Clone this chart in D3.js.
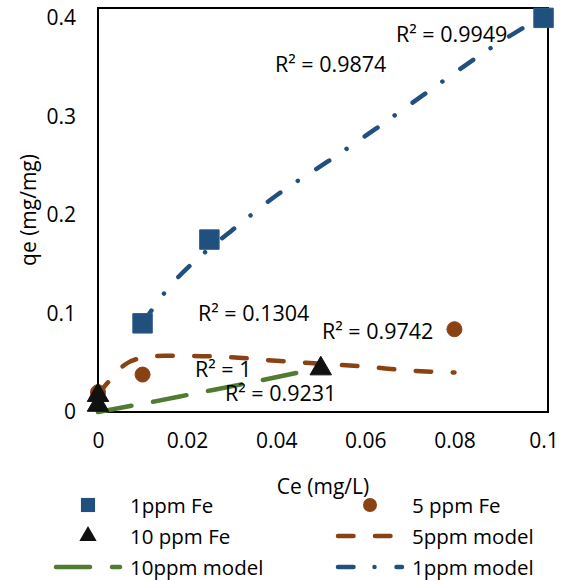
<!DOCTYPE html>
<html>
<head>
<meta charset="utf-8">
<script src="https://cdn.jsdelivr.net/npm/d3@7"></script>
<style>
  body { margin: 0; background: #fff; }
  text { font-family: "Open Sans", sans-serif; fill: #000; }
</style>
</head>
<body>
<script>
// measured points
let ce1 = [0.01, 0.025, 0.1];
let qe1 = [0.09, 0.175, 0.4];
let ce5 = [0, 0.01, 0.08];
let qe5 = [0.02, 0.038, 0.084];
let ce10 = [0, 0, 0.05];
let qe10 = [0.007, 0.017, 0.044];

// model curves
let model1Ce = [0.01, 0.0153, 0.0245, 0.0297, 0.0404, 0.0515, 0.0622, 0.0728, 0.0894, 0.1];
let model1Qe = [0.09, 0.123, 0.164, 0.183, 0.221, 0.254, 0.287, 0.321, 0.373, 0.402];
let model5Ce = [0, 0.003, 0.006, 0.01, 0.015, 0.02, 0.03, 0.04, 0.05, 0.06, 0.07, 0.08];
let model5Qe = [0.018, 0.034, 0.048, 0.055, 0.057, 0.057, 0.0555, 0.052, 0.049, 0.046, 0.042, 0.04];
let model10Ce = [0, 0.0128, 0.0213, 0.034, 0.05];
let model10Qe = [0, 0.0108, 0.0184, 0.0297, 0.045];

let r2Labels = ['R\u00b2 = 0.9949', 'R\u00b2 = 0.9874', 'R\u00b2 = 0.1304', 'R\u00b2 = 0.9742', 'R\u00b2 = 1', 'R\u00b2 = 0.9231'];

let xTicks = [0, 0.02, 0.04, 0.06, 0.08, 0.1];
let yTicks = [0, 0.1, 0.2, 0.3, 0.4];

let legendNames = ['1ppm Fe', '5 ppm Fe', '10 ppm Fe', '5ppm model', '10ppm model', '1ppm model'];

let blue = '#21507f', brown = '#8a4213', green = '#4f7c30';

let svg = d3.select('body').append('svg').attr('width', 568).attr('height', 580);

let x = d3.scaleLinear().domain([0, 0.101]).range([98, 548]);
let y = d3.scaleLinear().domain([0, 0.41]).range([412, 8]);

// axes (labels only, frame drawn separately)
let xAxis = svg.append('g').attr('transform', 'translate(0,412)')
    .call(d3.axisBottom(x).tickValues(xTicks).tickSize(0).tickPadding(21).tickFormat(d3.format('~g')));
let yAxis = svg.append('g').attr('transform', 'translate(98,0)')
    .call(d3.axisLeft(y).tickValues(yTicks).tickSize(0).tickPadding(22).tickFormat(d3.format('~g')));
[xAxis, yAxis].forEach(g => {
    g.select('.domain').remove();
    g.selectAll('text').style('font-family', '"Open Sans", sans-serif').style('font-size', '21px').attr('fill', '#000');
});

// frame
svg.append('rect').attr('x', 98).attr('y', 8).attr('width', 450).attr('height', 404)
    .attr('fill', 'none').attr('stroke', '#000').attr('stroke-width', 2);

let line = d3.line().x(d => x(d[0])).y(d => y(d[1])).curve(d3.curveMonotoneX);

let models = [
    { ce: model5Ce, qe: model5Qe, color: brown, dash: '15.5 21.5' },
    { ce: model10Ce, qe: model10Qe, color: green, dash: '34 22' },
    { ce: model1Ce, qe: model1Qe, color: blue, dash: '15.5 21 0.01 22' }
];
models.forEach(m => {
    svg.append('path')
        .datum(d3.zip(m.ce, m.qe))
        .attr('d', line)
        .attr('fill', 'none')
        .attr('stroke', m.color)
        .attr('stroke-width', 4.5)
        .attr('stroke-linecap', 'round')
        .attr('stroke-dasharray', m.dash);
});

let drawPoints = (ce, qe, type, size, fill, stroke) => {
    svg.append('g').selectAll('path')
        .data(d3.zip(ce, qe))
        .enter()
        .append('path')
        .attr('d', d3.symbol(type, size))
        .attr('transform', d => 'translate(' + x(d[0]) + ',' + y(d[1]) + ')')
        .attr('fill', fill)
        .attr('stroke', stroke)
        .attr('stroke-width', 1);
};
drawPoints(ce1, qe1, d3.symbolSquare, 380, blue, '#2e5d8c');
drawPoints(ce5, qe5, d3.symbolCircle, 177, brown, brown);
drawPoints(ce10, qe10, d3.symbolTriangle, 200, '#111', '#111');

// R² labels
let labelPos = [[396, 33], [275, 63], [198, 312], [322, 330], [195, 368], [225, 392]];
svg.append('g').selectAll('text')
    .data(r2Labels)
    .enter()
    .append('text')
    .attr('x', (d, i) => labelPos[i][0])
    .attr('y', (d, i) => labelPos[i][1])
    .attr('dominant-baseline', 'central')
    .style('font-size', '21.5px')
    .text(d => d);

// axis titles
svg.append('text').attr('x', 323).attr('y', 486).attr('text-anchor', 'middle')
    .attr('dominant-baseline', 'central').style('font-size', '21px').text('Ce (mg/L)');
svg.append('text').attr('transform', 'translate(28,210) rotate(-90)').attr('text-anchor', 'middle')
    .attr('dominant-baseline', 'central').style('font-size', '21px').text('qe (mg/mg)');

// legend
let legend = svg.append('g');
let rowY = [505, 536, 567];
let colX = [88, 370];
let items = [
    { kind: 'sym', type: d3.symbolSquare, size: 200, fill: blue, col: 0, row: 0 },
    { kind: 'sym', type: d3.symbolCircle, size: 154, fill: brown, col: 1, row: 0 },
    { kind: 'sym', type: d3.symbolTriangle, size: 130, fill: '#111', col: 0, row: 1 },
    { kind: 'line', color: brown, dash: '15.5 21.5', col: 1, row: 1 },
    { kind: 'line', color: green, dash: '34 22', col: 0, row: 2 },
    { kind: 'line', color: blue, dash: '15.5 21 0.01 22', col: 1, row: 2 }
];
items.forEach((it, i) => {
    let cx = colX[it.col], cy = rowY[it.row];
    if (it.kind === 'sym') {
        legend.append('path').attr('d', d3.symbol(it.type, it.size))
            .attr('transform', 'translate(' + cx + ',' + cy + ')')
            .attr('fill', it.fill);
    } else {
        legend.append('line').attr('x1', cx - 32).attr('x2', cx + 32).attr('y1', cy).attr('y2', cy)
            .attr('stroke', it.color).attr('stroke-width', 4.5)
            .attr('stroke-linecap', 'round').attr('stroke-dasharray', it.dash);
    }
    legend.append('text').attr('x', cx + 42).attr('y', cy)
        .attr('dominant-baseline', 'central').style('font-size', '20.5px')
        .text(legendNames[i]);
});
</script>
</body>
</html>
